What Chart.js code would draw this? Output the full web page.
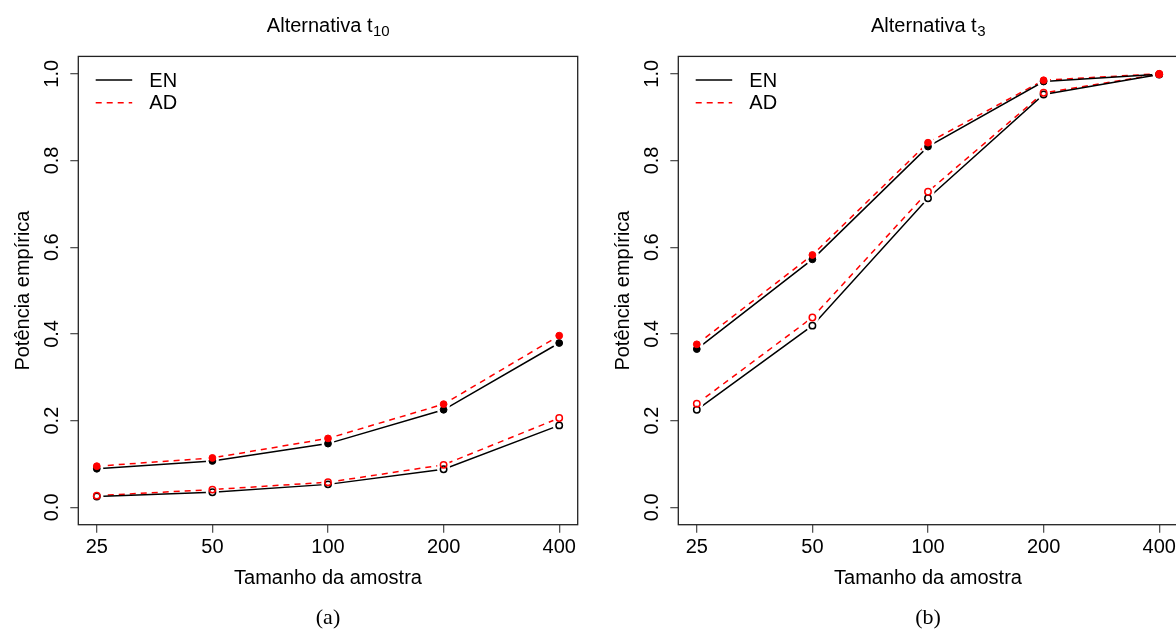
<!DOCTYPE html>
<html>
<head>
<meta charset="utf-8">
<script src="https://cdn.jsdelivr.net/npm/chart.js@4.4.0/dist/chart.umd.min.js"></script>
<style>
  html, body { margin: 0; padding: 0; background: #fff; overflow: hidden; width: 1176px; height: 630px; }
  .panel { position: absolute; top: 0; width: 600px; height: 630px; }
</style>
</head>
<body>
<div class="panel" style="left:0"><canvas id="chartA" width="600" height="630"></canvas></div>
<div class="panel" style="left:600px"><canvas id="chartB" width="600" height="630"></canvas></div>
<script>
const sizes = [25, 50, 100, 200, 400];
const yTickValues = [0, 0.2, 0.4, 0.6, 0.8, 1.0];
const legendLabels = ['EN', 'AD'];

// painel (a): alternativa t10
const t10EnCheio = [0.089, 0.107, 0.147, 0.225, 0.379];
const t10AdCheio = [0.095, 0.114, 0.159, 0.238, 0.396];
const t10EnVazio = [0.025, 0.035, 0.053, 0.088, 0.189];
const t10AdVazio = [0.027, 0.041, 0.058, 0.098, 0.206];

// painel (b): alternativa t3
const t3EnCheio = [0.365, 0.572, 0.832, 0.982, 0.999];
const t3AdCheio = [0.376, 0.582, 0.841, 0.985, 1.000];
const t3EnVazio = [0.225, 0.419, 0.713, 0.952, 0.998];
const t3AdVazio = [0.239, 0.438, 0.728, 0.956, 0.999];

const SANS = '"Liberation Sans", Arial, sans-serif';
const SERIF = '"Liberation Serif", "Times New Roman", serif';
const RED = '#ff0000';
const BLACK = '#000000';
const DASH = [6, 5];

Chart.defaults.font.family = SANS;
Chart.defaults.color = '#000';

function toPoints(vals) {
  return vals.map((v, i) => ({ x: i + 1, y: v }));
}

// each series -> line (with R-style gaps made by a white halo) + markers
function buildDatasets(series) {
  const out = [];
  series.forEach((s, k) => {
    const pts = toPoints(s.values);
    out.push({
      data: pts, borderColor: s.color, borderDash: s.dash, borderWidth: 1.5,
      pointRadius: 0, fill: false, tension: 0, order: 20 + k
    });
    out.push({
      data: pts, showLine: false, pointRadius: 6.5, pointBorderWidth: 0,
      pointBackgroundColor: '#fff', pointBorderColor: '#fff', order: 10 + k
    });
    out.push({
      data: pts, showLine: false,
      pointRadius: s.filled ? 3.4 : 3.2,
      pointBorderWidth: s.filled ? 1 : 1.5,
      pointBackgroundColor: s.filled ? s.color : 'rgba(0,0,0,0)',
      pointBorderColor: s.color, order: s.color === RED ? 1 : 2
    });
  });
  return out;
}

function panelDecor(title, sub, tag) {
  return {
    id: 'decor',
    afterDraw(chart) {
      const ctx = chart.ctx;
      const ca = chart.chartArea;
      const yScale = chart.scales.y;
      ctx.save();

      // box
      ctx.strokeStyle = '#222';
      ctx.lineWidth = 1.3;
      ctx.strokeRect(ca.left, ca.top, ca.right - ca.left, ca.bottom - ca.top);

      // rotated y tick labels
      ctx.fillStyle = '#000';
      ctx.font = '20px ' + SANS;
      ctx.textAlign = 'center';
      ctx.textBaseline = 'middle';
      yTickValues.forEach(v => {
        const y = yScale.getPixelForValue(v);
        ctx.save();
        ctx.translate(ca.left - 25.5, y);
        ctx.rotate(-Math.PI / 2);
        ctx.fillText(v.toFixed(1), 0, 0);
        ctx.restore();
      });

      // main title with subscript
      const cx = (ca.left + ca.right) / 2;
      ctx.textAlign = 'left';
      ctx.textBaseline = 'alphabetic';
      ctx.font = '20px ' + SANS;
      const w1 = ctx.measureText(title).width;
      ctx.font = '15px ' + SANS;
      const w2 = ctx.measureText(sub).width;
      const x0 = cx - (w1 + w2) / 2;
      ctx.font = '20px ' + SANS;
      ctx.fillText(title, x0, 31.7);
      ctx.font = '15px ' + SANS;
      ctx.fillText(sub, x0 + w1 + 0.5, 35.5);

      // legend
      const lx = ca.left + 17.4;
      const ly = [ca.top + 23.6, ca.top + 46.3];
      [[BLACK, []], [RED, DASH]].forEach(([col, dash], i) => {
        ctx.strokeStyle = col;
        ctx.lineWidth = 1.5;
        ctx.setLineDash(dash);
        ctx.beginPath();
        ctx.moveTo(lx, ly[i]);
        ctx.lineTo(lx + 36.5, ly[i]);
        ctx.stroke();
        ctx.setLineDash([]);
        ctx.fillStyle = '#000';
        ctx.font = '20px ' + SANS;
        ctx.textBaseline = 'middle';
        ctx.fillText(legendLabels[i], ca.left + 71, ly[i] + 1);
      });

      // sub-figure tag
      ctx.font = '22px ' + SERIF;
      ctx.textAlign = 'center';
      ctx.textBaseline = 'middle';
      ctx.fillText(tag, cx, 618);
      ctx.restore();
    }
  };
}

function makePanel(canvasId, title, sub, tag, series) {
  const ctx = document.getElementById(canvasId).getContext('2d');
  new Chart(ctx, {
    type: 'line',
    data: { datasets: buildDatasets(series) },
    options: {
      responsive: false,
      animation: false,
      devicePixelRatio: 1,
      events: [],
      layout: { padding: { left: 0, right: 22.3, top: 56.4, bottom: 0 } },
      plugins: { legend: { display: false }, tooltip: { enabled: false }, title: { display: false } },
      scales: {
        x: {
          type: 'linear', min: 0.84, max: 5.16,
          afterBuildTicks: s => { s.ticks = sizes.map((_, i) => ({ value: i + 1 })); },
          afterFit: s => { s.height = 630 - 524.7; s.paddingLeft = 0; s.paddingRight = 0; },
          ticks: {
            callback: (v, i) => sizes[i], autoSkip: false, maxRotation: 0, minRotation: 0,
            font: { size: 20 }, color: '#000', padding: 3
          },
          grid: { drawOnChartArea: false, drawTicks: true, tickLength: 8, color: '#555', lineWidth: 1.3 },
          border: { display: false },
          title: { display: true, text: 'Tamanho da amostra', font: { size: 20 }, color: '#000', padding: { top: 0, bottom: 40 } }
        },
        y: {
          type: 'linear', min: -0.04, max: 1.04,
          afterBuildTicks: s => { s.ticks = yTickValues.map(v => ({ value: v })); },
          afterFit: s => { s.width = 78.3; s.paddingTop = 0; s.paddingBottom = 0; },
          ticks: { display: false },
          grid: { drawOnChartArea: false, drawTicks: true, tickLength: 8, color: '#555', lineWidth: 1.3 },
          border: { display: false },
          title: { display: true, text: 'Potência empírica', font: { size: 20 }, color: '#000', padding: { top: 11, bottom: 0 } }
        }
      }
    },
    plugins: [panelDecor(title, sub, tag)]
  });
}

makePanel('chartA', 'Alternativa t', '10', '(a)', [
  { values: t10EnCheio, color: BLACK, dash: [], filled: true },
  { values: t10EnVazio, color: BLACK, dash: [], filled: false },
  { values: t10AdCheio, color: RED, dash: DASH, filled: true },
  { values: t10AdVazio, color: RED, dash: DASH, filled: false }
]);

makePanel('chartB', 'Alternativa t', '3', '(b)', [
  { values: t3EnCheio, color: BLACK, dash: [], filled: true },
  { values: t3EnVazio, color: BLACK, dash: [], filled: false },
  { values: t3AdCheio, color: RED, dash: DASH, filled: true },
  { values: t3AdVazio, color: RED, dash: DASH, filled: false }
]);
</script>
</body>
</html>
